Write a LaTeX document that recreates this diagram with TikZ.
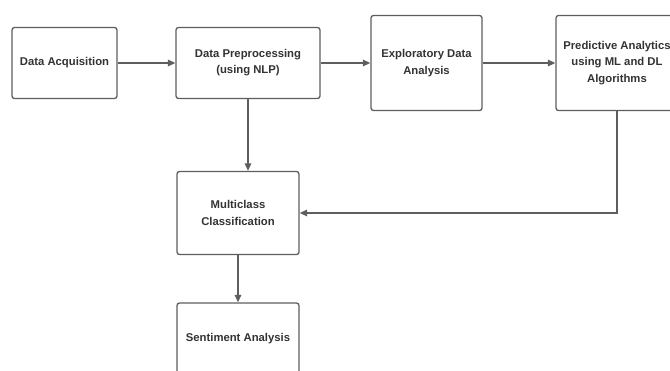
\documentclass[tikz,border=0pt]{standalone}
\usepackage{fontspec}
\setmainfont{Liberation Sans}
\usetikzlibrary{arrows.meta}
\definecolor{linegray}{HTML}{5E5E5E}
\definecolor{textgray}{HTML}{333333}

\begin{document}
\begin{tikzpicture}[x=1pt,y=-1pt,
    stagebox/.style={rectangle,
          draw = linegray,
          line width = 1.3pt,
          rounded corners = 2.5pt,
          fill = white,
          align = center,
          text = textgray,
          font = \fontsize{11.3}{16.2}\selectfont\bfseries},
    flow/.style={draw = linegray,
          line width = 1.3pt,
          -{Triangle[length=7.5pt,width=6.5pt]}}]

    \useasboundingbox (0,0) rectangle (670,370);
    \clip (0,0) rectangle (670,370);

    \node[stagebox,
          minimum width = 105pt,
          minimum height = 71pt] (DA) at (64.5,63) {Data Acquisition};

    \node[stagebox,
          minimum width = 144pt,
          minimum height = 71pt] (DP) at (248,63) {Data Preprocessing\\(using NLP)};

    \node[stagebox,
          minimum width = 111pt,
          minimum height = 95pt] (EDA) at (426.5,63) {Exploratory Data\\Analysis};

    \node[stagebox,
          minimum width = 122pt,
          minimum height = 95pt] (PA) at (617,63) {Predictive Analytics\\using ML and DL\\Algorithms};

    \node[stagebox,
          minimum width = 122pt,
          minimum height = 83pt] (MC) at (238,213) {Multiclass\\Classification};

    \node[stagebox,
          minimum width = 122pt,
          minimum height = 72pt] (SA) at (238,339) {Sentiment Analysis};

    % main row
    \draw[flow] (DA) -- (DP);
    \draw[flow] (DP) -- (EDA);
    \draw[flow] (EDA) -- (PA);

    % down to classification
    \draw[flow] (DP.south) -- (DP.south |- MC.north);
    \draw[flow] (PA.south) |- (MC.east);
    \draw[flow] (MC) -- (SA);

\end{tikzpicture}
\end{document}
